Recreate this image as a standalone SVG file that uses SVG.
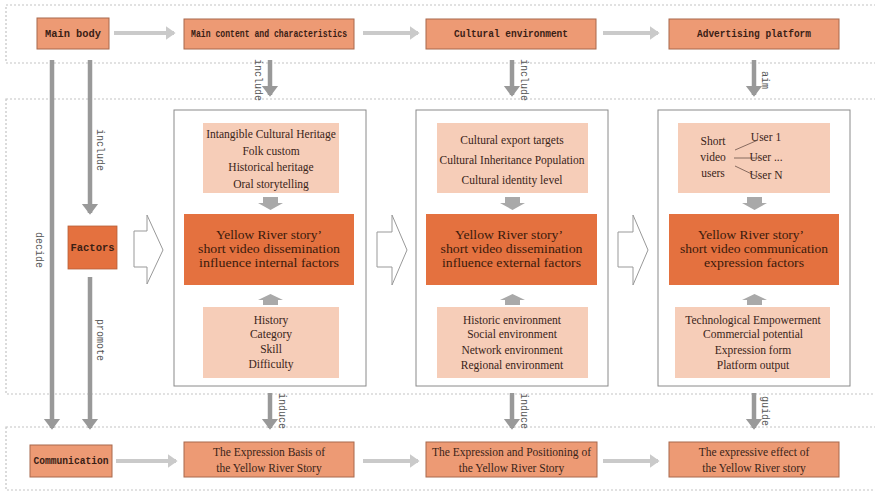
<svg xmlns="http://www.w3.org/2000/svg" width="875" height="496" viewBox="0 0 875 496">
<style>
.band{fill:none;stroke:#c4c4c4;stroke-width:1.2;stroke-dasharray:2 2}
.node{fill:#ED9A74;stroke:#A8684C;stroke-width:1}
.mono{font-family:"Liberation Mono","DejaVu Sans Mono",monospace;font-size:11px;font-weight:bold;fill:#3a2014}
.lbl{font-family:"Liberation Mono","DejaVu Sans Mono",monospace;font-size:10px;fill:#555}
.panel{fill:#fff;stroke:#8a8a8a;stroke-width:1}
.light{fill:#F6CDB8}
.dark{fill:#E4713F}
.ser{font-family:"Liberation Serif","Times New Roman",serif;font-size:11.5px;fill:#3a2418;text-anchor:middle}
.big{font-family:"Liberation Serif","Times New Roman",serif;font-size:13.5px;fill:#3a1a0c;text-anchor:middle}
.harr{stroke:#CACACA;stroke-width:4;fill:none;marker-end:url(#hh)}
.varr{stroke:#999;stroke-width:4.5;fill:none;marker-end:url(#vh)}
.blk{fill:#A9A9A9}
.hollow{fill:#fff;stroke:#999;stroke-width:1}
</style>
<defs>
<marker id="hh" markerWidth="4" markerHeight="4" refX="2" refY="2" orient="auto" markerUnits="strokeWidth"><path d="M0,0.3 L2.4,2 L0,3.7 Z" fill="#CACACA"/></marker>
<marker id="vh" markerWidth="4" markerHeight="4" refX="2" refY="2" orient="auto" markerUnits="strokeWidth"><path d="M0,0.2 L2.4,2 L0,3.8 Z" fill="#999"/></marker>
</defs>
<rect width="875" height="496" fill="#fff"/>
<g id="bands">
<rect class="band" x="6" y="5" width="880" height="58"/>
<rect class="band" x="6" y="99" width="880" height="295"/>
<rect class="band" x="6" y="427" width="880" height="63"/>
</g>
<g id="connectors">
<line class="harr" x1="114" y1="33" x2="174" y2="33"/>
<line class="harr" x1="363" y1="33" x2="418" y2="33"/>
<line class="harr" x1="603" y1="33" x2="658" y2="33"/>
<line class="harr" x1="116" y1="461" x2="176" y2="461"/>
<line class="harr" x1="363" y1="461" x2="418" y2="461"/>
<line class="harr" x1="603" y1="461" x2="658" y2="461"/>
<line class="varr" x1="52" y1="60" x2="52" y2="428"/>
<line class="varr" x1="90" y1="60" x2="90" y2="213"/>
<line class="varr" x1="90" y1="277" x2="90" y2="428"/>
<line class="varr" x1="270" y1="60" x2="270" y2="95"/>
<line class="varr" x1="512" y1="60" x2="512" y2="95"/>
<line class="varr" x1="754" y1="60" x2="754" y2="95"/>
<line class="varr" x1="270" y1="393" x2="270" y2="428"/>
<line class="varr" x1="512" y1="393" x2="512" y2="428"/>
<line class="varr" x1="754" y1="393" x2="754" y2="428"/>
<text class="lbl" transform="translate(36,250) rotate(90)" text-anchor="middle">decide</text>
<text class="lbl" transform="translate(97,150) rotate(90)" text-anchor="middle">include</text>
<text class="lbl" transform="translate(97,340) rotate(90)" text-anchor="middle">promote</text>
<text class="lbl" transform="translate(255,80) rotate(90)" text-anchor="middle">include</text>
<text class="lbl" transform="translate(521,80) rotate(90)" text-anchor="middle">include</text>
<text class="lbl" transform="translate(762,80) rotate(90)" text-anchor="middle">aim</text>
<text class="lbl" transform="translate(279,411) rotate(90)" text-anchor="middle">induce</text>
<text class="lbl" transform="translate(521,411) rotate(90)" text-anchor="middle">induce</text>
<text class="lbl" transform="translate(762,411) rotate(90)" text-anchor="middle">guide</text>
<path class="hollow" d="M134,231 H147 V215 L163,250 L147,284 V267 H134 Z"/>
<path class="hollow" d="M377,232 H392 V215 L407,250 L392,285 V267 H377 Z" stroke="#b5b5b5"/>
<path class="hollow" d="M618,232 H633 V215 L648,250 L633,285 V267 H618 Z"/>
</g>
<g id="main-body"><rect class="node" x="37" y="18" width="72" height="31"/><text class="mono" x="73" y="37" text-anchor="middle" textLength="56" lengthAdjust="spacingAndGlyphs">Main body</text></g>
<g id="main-content"><rect class="node" x="184" y="19" width="170" height="30"/><text class="mono" x="269" y="37" text-anchor="middle" textLength="156" lengthAdjust="spacingAndGlyphs">Main content and characteristics</text></g>
<g id="cultural-environment"><rect class="node" x="426" y="19" width="170" height="30"/><text class="mono" x="511" y="37" text-anchor="middle" textLength="114" lengthAdjust="spacingAndGlyphs">Cultural environment</text></g>
<g id="advertising-platform"><rect class="node" x="669" y="19" width="170" height="30"/><text class="mono" x="754" y="37" text-anchor="middle" textLength="114" lengthAdjust="spacingAndGlyphs">Advertising platform</text></g>
<g id="factors"><rect x="68" y="226" width="49" height="43" fill="#E4713F" stroke="#B5603A" stroke-width="0.8"/><text class="mono" x="92.5" y="251" text-anchor="middle" textLength="44" lengthAdjust="spacingAndGlyphs">Factors</text></g>
<g id="communication"><rect class="node" x="30" y="445" width="82" height="32"/><text class="mono" x="71" y="464" text-anchor="middle" textLength="75" lengthAdjust="spacingAndGlyphs">Communication</text></g>
<g id="expression-basis"><rect class="node" x="184" y="442" width="170" height="35"/><text class="ser" x="269" y="456">The Expression Basis of</text><text class="ser" x="269" y="472">the Yellow River Story</text></g>
<g id="expression-positioning"><rect class="node" x="426" y="442" width="171" height="35"/><text class="ser" x="511.5" y="456">The Expression and Positioning of</text><text class="ser" x="511.5" y="472">the Yellow River Story</text></g>
<g id="expressive-effect"><rect class="node" x="669" y="442" width="170" height="35"/><text class="ser" x="754" y="456">The expressive effect of</text><text class="ser" x="754" y="472">the Yellow River story</text></g>
<g id="panel-internal">
<rect class="panel" x="174" y="110" width="192" height="276"/>
<rect class="light" x="203" y="123" width="136" height="70"/>
<text class="ser" x="271" y="138">Intangible Cultural Heritage</text>
<text class="ser" x="271" y="155">Folk custom</text>
<text class="ser" x="271" y="171">Historical heritage</text>
<text class="ser" x="271" y="188">Oral storytelling</text>
<path class="blk" d="M263,197 H278 V203 H283 L270.5,210 L258,203 H263 Z"/>
<rect class="dark" x="184" y="214" width="170" height="71"/>
<text class="big" x="269" y="239" textLength="106" lengthAdjust="spacingAndGlyphs">Yellow River story’</text>
<text class="big" x="269" y="253" textLength="142" lengthAdjust="spacingAndGlyphs">short video dissemination</text>
<text class="big" x="269" y="267" textLength="140" lengthAdjust="spacingAndGlyphs">influence internal factors</text>
<path class="blk" d="M263,305 H278 V300 H283 L270.5,294 L258,300 H263 Z"/>
<rect class="light" x="203" y="307" width="136" height="71"/>
<text class="ser" x="271" y="324">History</text>
<text class="ser" x="271" y="338">Category</text>
<text class="ser" x="271" y="353">Skill</text>
<text class="ser" x="271" y="368">Difficulty</text>
</g>
<g id="panel-external">
<rect class="panel" x="416" y="110" width="192" height="276"/>
<rect class="light" x="437" y="123" width="151" height="70"/>
<text class="ser" x="512" y="144">Cultural export targets</text>
<text class="ser" x="512" y="164">Cultural Inheritance Population</text>
<text class="ser" x="512" y="184">Cultural identity level</text>
<path class="blk" d="M505,197 H520 V203 H525 L512.5,210 L500,203 H505 Z"/>
<rect class="dark" x="426" y="214" width="171" height="71"/>
<text class="big" x="509" y="239" textLength="108" lengthAdjust="spacingAndGlyphs">Yellow River story’</text>
<text class="big" x="511.5" y="253" textLength="142" lengthAdjust="spacingAndGlyphs">short video dissemination</text>
<text class="big" x="511.5" y="267" textLength="139" lengthAdjust="spacingAndGlyphs">influence external factors</text>
<path class="blk" d="M505,305 H520 V300 H525 L512.5,294 L500,300 H505 Z"/>
<rect class="light" x="437" y="307" width="151" height="71"/>
<text class="ser" x="512" y="324">Historic environment</text>
<text class="ser" x="512" y="338">Social environment</text>
<text class="ser" x="512" y="354">Network environment</text>
<text class="ser" x="512" y="369">Regional environment</text>
</g>
<g id="panel-expression">
<rect class="panel" x="658" y="110" width="192" height="276"/>
<rect class="light" x="678" y="123" width="152" height="70"/>
<text class="ser" x="713" y="145">Short</text>
<text class="ser" x="713" y="161">video</text>
<text class="ser" x="713" y="177">users</text>
<g stroke="#6b5048" stroke-width="0.8"><line x1="735" y1="150" x2="758" y2="140"/><line x1="734" y1="158" x2="759" y2="158"/><line x1="735" y1="166" x2="758" y2="177"/></g>
<text class="ser" x="766" y="141" text-anchor="start">User 1</text>
<text class="ser" x="766" y="161" text-anchor="start">User ...</text>
<text class="ser" x="766" y="179" text-anchor="start">User N</text>
<path class="blk" d="M747,197 H762 V203 H767 L754.5,210 L742,203 H747 Z"/>
<rect class="dark" x="669" y="214" width="170" height="71"/>
<text class="big" x="751" y="239" textLength="106" lengthAdjust="spacingAndGlyphs">Yellow River story’</text>
<text class="big" x="754" y="253" textLength="148" lengthAdjust="spacingAndGlyphs">short video communication</text>
<text class="big" x="754" y="267" textLength="100" lengthAdjust="spacingAndGlyphs">expression factors</text>
<path class="blk" d="M747,305 H762 V300 H767 L754.5,294 L742,300 H747 Z"/>
<rect class="light" x="675" y="307" width="155" height="71"/>
<text class="ser" x="753" y="324">Technological Empowerment</text>
<text class="ser" x="753" y="338">Commercial potential</text>
<text class="ser" x="753" y="354">Expression form</text>
<text class="ser" x="753" y="369">Platform output</text>
</g>
</svg>
